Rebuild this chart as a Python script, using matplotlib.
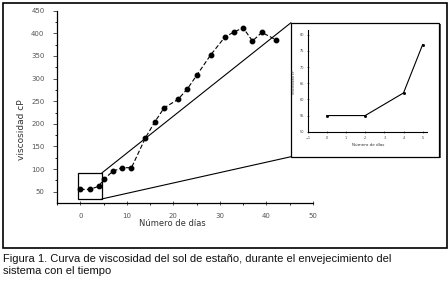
import matplotlib
matplotlib.use('Agg')
import matplotlib.pyplot as plt
from matplotlib.patches import Rectangle, ConnectionPatch

# viscosity data
dias = [0, 2, 4, 5, 7, 9, 11, 14, 16, 18, 21, 23, 25, 28, 31, 33, 35, 37, 39, 42]
visc = [55, 55, 62, 77, 95, 103, 103, 169, 204, 235, 254, 277, 307, 352, 391, 403, 412, 383, 402, 386]

# first days shown in the zoomed inset
dias_zoom = [0, 2, 4, 5]
visc_zoom = [55, 55, 62, 77]

caption = ["Figura 1. Curva de viscosidad del sol de estaño, durante el envejecimiento del",
           "sistema con el tiempo"]

W, H = 448, 282
fig = plt.figure(figsize=(W / 100, H / 100), dpi=100)

def fx(px):
    return px / W

def fy(py):
    return 1 - py / H

# outer frame around the chart
fig.patches.append(Rectangle((fx(3), fy(247.5)), fx(444), 244.5 / H, transform=fig.transFigure,
                             fill=False, lw=1.2, ec='black'))

ax = fig.add_axes([fx(57), fy(203), fx(313 - 57), (203 - 10.7) / H])
ax.plot(dias, visc, color='black', lw=0.8, ls=(0, (4, 2)), marker='o', ms=3.2)
ax.set_xlim(-5, 50)
ax.set_ylim(25, 450)
ax.set_xticks([0, 10, 20, 30, 40, 50])
ax.set_xticks([-5, 5, 15, 25, 35, 45], minor=True)
ax.set_yticks(range(50, 451, 50))
ax.set_yticks(range(75, 451, 50), minor=True)
for s in ['top', 'right']:
    ax.spines[s].set_visible(False)
for s in ['left', 'bottom']:
    ax.spines[s].set_linewidth(0.9)
ax.tick_params(labelsize=5, colors='#555', length=3, width=0.7, pad=6)
ax.tick_params(which='minor', length=1.5, width=0.6)
ax.tick_params(axis='x', direction='inout')
fig.text(fx(22), fy(130), 'viscosidad cP', rotation=90, fontsize=6.5, color='#333',
         ha='center', va='center')
fig.text(fx(172), fy(223), 'Número de días', fontsize=6, color='#333',
         ha='center', va='center')

# zoom rectangle
x0, x1, y0, y1 = -0.55, 4.65, 34, 91.5
ax.add_patch(Rectangle((x0, y0), x1 - x0, y1 - y0, fill=False, lw=0.9, ec='black'))

# inset panel with a small drop shadow
ix0, iy0, ix1, iy1 = 291, 22.7, 439, 156.7
fig.patches.append(Rectangle((fx(ix0 + 1.5), fy(iy1 + 1.5)), fx(ix1 - ix0), (iy1 - iy0) / H,
                             transform=fig.transFigure, fc='#555', ec='none', zorder=1))
fig.patches.append(Rectangle((fx(ix0), fy(iy1)), fx(ix1 - ix0), (iy1 - iy0) / H,
                             transform=fig.transFigure, fc='white', ec='black', lw=0.9, zorder=2))

# connector lines
for (xa, ya), (pxb, pyb) in [((x1, y1), (ix0, iy0)), ((x1, y0), (ix0, iy1))]:
    con = ConnectionPatch(xyA=(xa, ya), coordsA=ax.transData,
                          xyB=(fx(pxb), fy(pyb)), coordsB=fig.transFigure,
                          lw=0.8, color='black')
    fig.add_artist(con)

axi = fig.add_axes([fx(307.7), fy(131.7), fx(426.5 - 307.7), (131.7 - 30) / H], zorder=3)
axi.patch.set_alpha(0)
axi.plot(dias_zoom, visc_zoom, color='black', lw=0.8, marker='s', ms=1.0)
axi.set_xlim(-1, 5.2)
axi.set_ylim(50, 81.5)
axi.set_xticks(range(-1, 6))
axi.set_yticks(range(50, 81, 5))
for s in ['top', 'right']:
    axi.spines[s].set_visible(False)
axi.tick_params(labelsize=2.5, colors='#444', length=1.5, width=0.5, pad=2, direction='inout')
fig.text(fx(294), fy(82), 'viscosidad cP', rotation=90, fontsize=2.5, color='#333',
         ha='center', va='center')
fig.text(fx(368), fy(145), 'Número de días', fontsize=3, color='#333',
         ha='center', va='center')

# caption
fig.text(fx(3), fy(261.5), caption[0], fontsize=8.0, family=['Liberation Sans', 'DejaVu Sans'],
         color='#111', ha='left', va='baseline')
fig.text(fx(3), fy(274.5), caption[1], fontsize=8.0, family=['Liberation Sans', 'DejaVu Sans'],
         color='#111', ha='left', va='baseline')

fig.savefig('out.png', dpi=100)
